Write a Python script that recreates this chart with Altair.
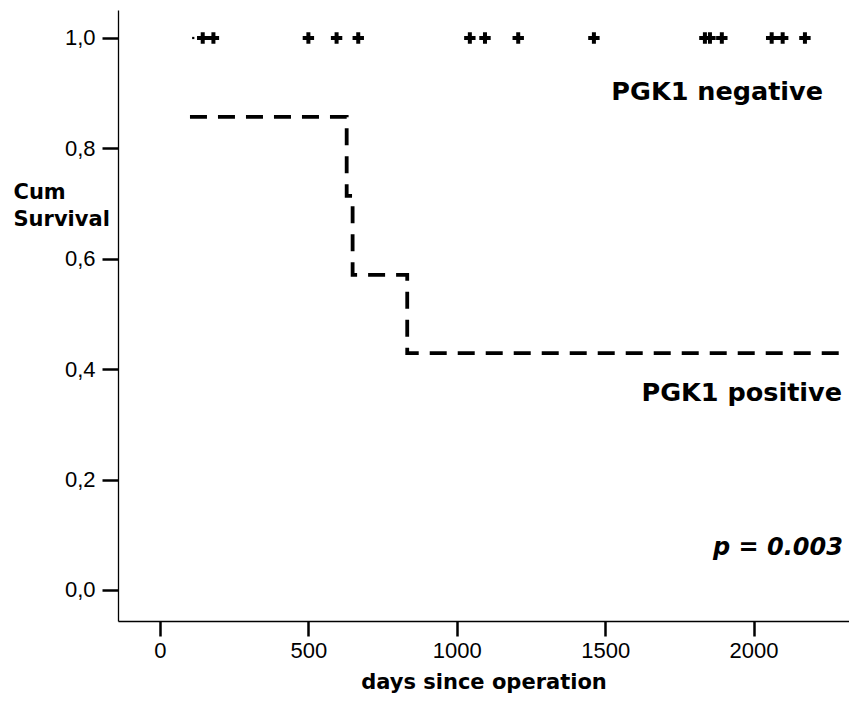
import altair as alt
import pandas as pd

# PGK1 positive Kaplan-Meier steps (days, cumulative survival)
pos_days = [101, 629, 649, 833, 2314]
pos_surv = [0.857, 0.714, 0.571, 0.429, 0.429]

# PGK1 negative censored observations (all at survival 1.0)
neg_censor_days = [144, 180, 500, 595, 668, 1044, 1095, 1207, 1462,
                   1836, 1853, 1893, 2061, 2098, 2173]
neg_start_day = [112]

# annotations
ann_text = ["PGK1 negative", "PGK1 positive"]
ann_x = [2234, 2298]
ann_y = [0.902, 0.357]
p_text = ["p = 0.003"]
p_x = [2301]
p_y = [0.076]

x_ticks = [0, 500, 1000, 1500, 2000]
y_ticks = [0.0, 0.2, 0.4, 0.6, 0.8, 1.0]

BOLD_FONT = "DejaVu Sans"
TICK_FONT = "Liberation Sans Narrow, Arial Narrow, Liberation Sans, sans-serif"

pos_df = pd.DataFrame({"days": pos_days, "surv": pos_surv})
neg_df = pd.DataFrame({"days": neg_censor_days, "surv": [1.0] * len(neg_censor_days)})
start_df = pd.DataFrame({"days": neg_start_day, "surv": [1.0]})
ann_df = pd.DataFrame({"t": ann_text, "x": ann_x, "y": ann_y})
p_df = pd.DataFrame({"t": p_text, "x": p_x, "y": p_y})

xscale = alt.Scale(domain=[-141.5, 2321.5], nice=False, zero=False)
yscale = alt.Scale(domain=[-0.0562, 1.0507], nice=False, zero=False)

xenc = alt.X("days:Q", scale=xscale,
             axis=alt.Axis(values=x_ticks, title="days since operation", format="d",
                           tickSize=15, labelPadding=4,
                           titleY=67, titleBaseline="alphabetic"))
yenc = alt.Y("surv:Q", scale=yscale,
             axis=alt.Axis(values=y_ticks, title=["Cum", "Survival"],
                           labelExpr="replace(format(datum.value, '.1f'), '.', ',')",
                           tickSize=16, labelPadding=7,
                           titleAngle=0, titleAlign="left", titleBaseline="alphabetic",
                           titleX=-105, titleY=188, titleLineHeight=27))

line = alt.Chart(pos_df).mark_line(
    interpolate="step-after", color="black", strokeWidth=3.8,
    strokeDash=[17, 11], strokeCap="butt"
).encode(x=xenc, y=yenc)

plus = alt.Chart(neg_df).mark_point(
    shape="M-1,0H1M0,-1V1", filled=False, color="black",
    strokeWidth=4, size=130, opacity=1
).encode(x="days:Q", y="surv:Q")

start = alt.Chart(start_df).mark_point(
    shape="square", filled=True, color="black", size=5, opacity=1
).encode(x="days:Q", y="surv:Q")

ann = alt.Chart(ann_df).mark_text(
    align="right", baseline="middle", fontSize=25.5, fontWeight="bold",
    font=BOLD_FONT, color="black"
).encode(x="x:Q", y="y:Q", text="t:N")

ptext = alt.Chart(p_df).mark_text(
    align="right", baseline="middle", fontSize=24, fontWeight="bold",
    fontStyle="italic", font=BOLD_FONT, color="black"
).encode(x="x:Q", y="y:Q", text="t:N")

chart = alt.layer(line, plus, start, ann, ptext).properties(
    width=731, height=611,
    autosize=alt.AutoSizeParams(type="none"),
    padding={"left": 110, "top": 2, "right": 0, "bottom": 72},
    background="white"
).configure_view(stroke=None).configure_axis(
    grid=False, domainColor="black", domainWidth=1.3,
    tickColor="black", tickWidth=2.5,
    labelFont=TICK_FONT, labelFontSize=22, labelColor="black",
    titleFont=BOLD_FONT, titleFontSize=21, titleFontWeight="bold",
    titleColor="black"
)

chart.save("out.html", embed_options={"renderer": "svg", "actions": False})
